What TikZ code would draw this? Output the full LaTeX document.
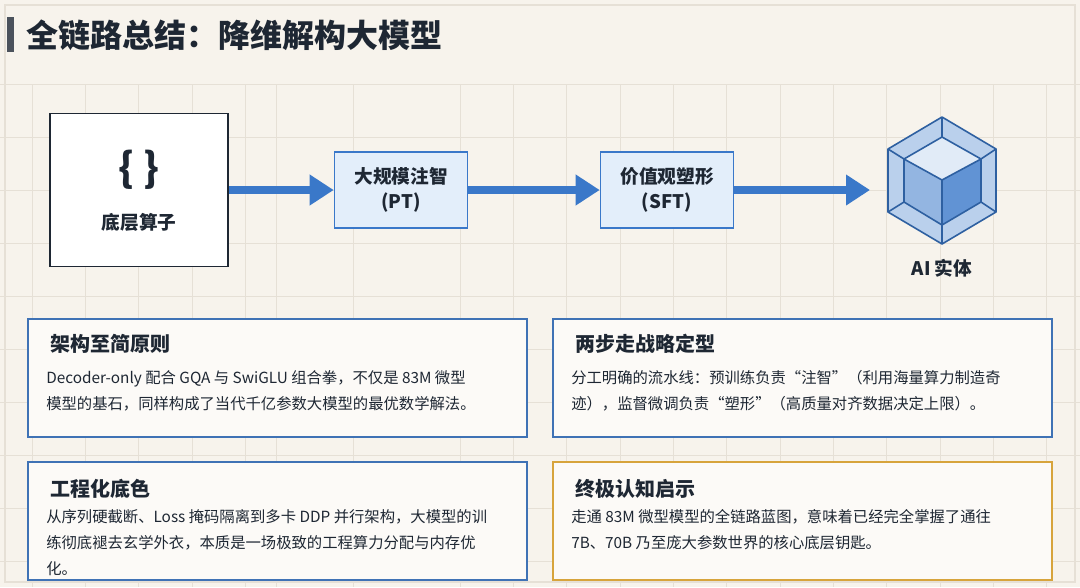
\documentclass[tikz,border=0pt]{standalone}
\usepackage{fontspec}
\setmainfont{Noto Sans CJK SC}
\usetikzlibrary{arrows.meta}
\definecolor{paper}{HTML}{F7F3EC}
\definecolor{gridc}{HTML}{E6E0D6}
\definecolor{ink}{HTML}{1E2733}
\definecolor{flow}{HTML}{3A78C9}
\definecolor{flowfill}{HTML}{E3EEFA}
\definecolor{cardline}{HTML}{3F72B5}
\definecolor{gold}{HTML}{D7A43C}
\tikzset{
  stage/.style={draw=flow, line width=1.2pt, fill=flowfill, minimum width=133*0.75pt, minimum height=76*0.75pt, align=center, font=\fontsize{14}{19}\selectfont\bfseries, text=ink},
  flowarrow/.style={draw=flow, line width=6pt, -{Triangle[length=18pt,width=22pt]}},
  card/.style={draw=cardline, line width=1.2pt, fill=white!60!paper},
  cardtitle/.style={anchor=west, font=\fontsize{15}{18}\selectfont\bfseries, text=ink},
  cardtext/.style={anchor=north west, align=left, font=\fontsize{11.5}{19.5}\selectfont, text=ink, inner sep=0pt}
}
\begin{document}
\begin{tikzpicture}[x=0.75pt, y=-0.75pt]
  % background and grid
  \fill[paper] (0,0) rectangle (1080,587);
  \useasboundingbox (0,0) rectangle (1080,587);
  \foreach \gx in {32,85,138,192,245,276,353,460,513,566,620,673,726,780,833,886,940,993,1046}
    \draw[gridc, line width=0.5pt] (\gx,84) -- (\gx,587);
  \foreach \gy in {84,137,190,243,296,349,402,455,508,561}
    \draw[gridc, line width=0.5pt] (0,\gy) -- (1080,\gy);
  \draw[gridc, line width=0.8pt] (5,5) rectangle (1075,582);

  % title
  \fill[ink!80!white] (7,17) rectangle (14,52);
  \node[anchor=west, font=\fontsize{24}{28}\selectfont\bfseries, text=ink] (title) at (22,35) {全链路总结：降维解构大模型};

  % flow
  \node[draw=ink, line width=1.2pt, fill=white, minimum width=178*0.75pt, minimum height=153*0.75pt] (ops) at (139,190) {};
  \node[font=\fontsize{30}{30}\selectfont\bfseries, text=ink] (brace) at (139,170) {\{ \}};
  \node[font=\fontsize{14}{16}\selectfont\bfseries, text=ink] (opslabel) at (139,222) {底层算子};
  \node[stage] (pt) at (401,190) {大规模注智\\(PT)};
  \node[stage] (sft) at (667,190) {价值观塑形\\(SFT)};
  \coordinate (cubein) at (870,190);
  \draw[flowarrow] (ops.east |- pt) -- (pt.west);
  \draw[flowarrow] (pt.east) -- (sft.west);
  \draw[flowarrow] (sft.east) -- (cubein);

  % cube
  \begin{scope}[draw=flow!80!black, line width=1.2pt, line join=round]
    \fill[flow!35!white] (942,117) -- (996,149) -- (996,212) -- (942,244) -- (888,212) -- (888,149) -- cycle;
    \fill[flow!15!white] (942,137) -- (981,159) -- (942,180) -- (904,159) -- cycle;
    \fill[flow!55!white] (904,159) -- (942,180) -- (942,225) -- (904,202) -- cycle;
    \fill[flow!80!white] (981,159) -- (942,180) -- (942,225) -- (981,202) -- cycle;
    \draw (942,117) -- (996,149) -- (996,212) -- (942,244) -- (888,212) -- (888,149) -- cycle;
    \draw (942,137) -- (981,159) -- (981,202) -- (942,225) -- (904,202) -- (904,159) -- cycle;
    \draw (904,159) -- (942,180) -- (981,159) (942,180) -- (942,225);
    \draw (942,117) -- (942,137) (996,149) -- (981,159) (996,212) -- (981,202)
          (942,244) -- (942,225) (888,212) -- (904,202) (888,149) -- (904,159);
  \end{scope}
  \node[font=\fontsize{14}{16}\selectfont\bfseries, text=ink] (entity) at (942,268) {AI 实体};

  % cards
  \draw[card] (28,319) rectangle (527,437);
  \node[cardtitle] (t1) at (46,344) {架构至简原则};
  \node[cardtext] (b1) at (46,370) {Decoder-only 配合 GQA 与 SwiGLU 组合拳，不仅是 83M 微型\\模型的基石，同样构成了当代千亿参数大模型的最优数学解法。};

  \draw[card] (553,319) rectangle (1052,437);
  \node[cardtitle] (t2) at (571,344) {两步走战略定型};
  \node[cardtext] (b2) at (571,370) {分工明确的流水线：预训练负责“注智”（利用海量算力制造奇\\迹），监督微调负责“塑形”（高质量对齐数据决定上限）。};

  \draw[card] (28,462) rectangle (527,580);
  \node[cardtitle] (t3) at (46,489) {工程化底色};
  \node[cardtext] (b3) at (46,509) {从序列硬截断、Loss 掩码隔离到多卡 DDP 并行架构，大模型的训\\练彻底褪去玄学外衣，本质是一场极致的工程算力分配与内存优\\化。};

  \draw[card, draw=gold] (553,462) rectangle (1052,580);
  \node[cardtitle] (t4) at (571,489) {终极认知启示};
  \node[cardtext] (b4) at (571,509) {走通 83M 微型模型的全链路蓝图，意味着已经完全掌握了通往\\7B、70B 乃至庞大参数世界的核心底层钥匙。};
\end{tikzpicture}
\end{document}
